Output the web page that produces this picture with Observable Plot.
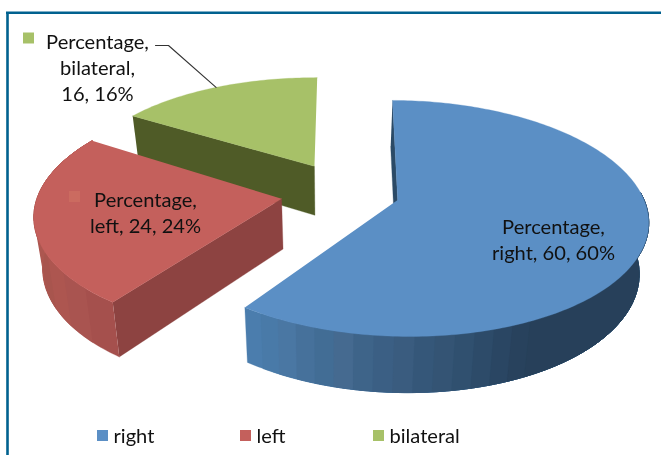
<!DOCTYPE html>
<html><head><meta charset="utf-8">
<script src="https://cdn.jsdelivr.net/npm/d3@7"></script>
<script src="https://cdn.jsdelivr.net/npm/@observablehq/plot@0.6"></script>
<style>html,body{margin:0;padding:0;background:#fff}svg{display:block;filter:blur(.5px)}</style>
</head><body><div id="chart"></div>
<script>
const categories = ["right", "left", "bilateral"];
const values = [60, 24, 16];
const topColors = ["#5b8fc5", "#c4605c", "#a7c168"];
const edgeColors = ["#2b4a66", "#8d4341", "#4f5b27"];
const keyColors = ["#5b8fc5", "#cb6b60", "#a7c168"];
// wall shading from the cut edge round the rim, one colour per band
const blueWall = ["#4b7dad","#497aa8","#4a77a3","#46719b","#426d95","#456a90","#3e6489","#3b5f84","#3a5c7f","#355779","#345474","#30506f","#2d4b69","#2a4663","#28425d","#27405a"];
const redWall = ["#a5504d","#a95450","#ad5650","#a8554e","#b0574f","#ad5750","#b65b54","#b85c56","#bc5e59","#bf5f5b"];
const labelLines = [["Percentage,","right, 60, 60%"],["Percentage,","left, 24, 24%"],["Percentage,","bilateral,","16, 16%"]];

const W = 661, H = 455;
const vx = 330, vy = 192.5, Rx = 243, Ry = 113.4, p = 0.13, expl = 0.24, X0 = 0.034, startDeg = 0.3;
const deg = Math.PI/180;
// per-slice fit of the slice's centre and radii, and how its rim wall is banded
const shapes = [
  {dX:4.5/243, apexDx:-1.5/243, sx:1, sz:1, apexDz:-0.025, rim:true, rimStop:150, rimFar:85, bands:blueWall},
  {dX:-2/243, apexDx:2.5/243, sx:0.99, sz:1, apexDz:0, rim:true, bands:redWall},
  {dX:3/243, apexDx:0, sx:0.98, sz:0.93, apexDz:0, rim:false, bands:[]}
];
const pie = d3.pie().sort(null).startAngle(startDeg*deg).endAngle((360+startDeg)*deg)(values);
function project(X, Z){const s = 1/(1-p*Z); return [vx+Rx*X*s, vy+Ry*Z*s];}
function lower([x,y]){return [vx+(x-vx)*0.97, y+49+(y-167)*0.042];}
const slices = pie.map((d,i)=>{
  const mid=(d.startAngle+d.endAngle)/2, sh=shapes[i];
  const cX=X0+expl*Math.sin(mid)+sh.dX, cZ=-expl*1.15*Math.cos(mid);
  const rim=a=>project(cX+sh.sx*Math.sin(a), cZ-sh.sz*Math.cos(a));
  return {i,a0:d.startAngle,a1:d.endAngle,apex:project(cX+sh.apexDx,cZ+sh.apexDz),rim,sh};
});
const arcPts=(s,a0,a1)=>{const lo=Math.min(a0,a1),hi=Math.max(a0,a1);const n=Math.max(2,Math.ceil((hi-lo)/deg)); return d3.range(n+1).map(k=>s.rim(lo+(hi-lo)*k/n));};
const polys=[];
let nextId=0;
const add=(pts,fill)=>{const id=nextId++; pts.forEach(q=>polys.push({id,x:q[0],y:q[1],fill}));};
function drawSlice(s){
  const c0=s.rim(s.a0), sh=s.sh;
  add([c0,s.apex,lower(s.apex),lower(c0)],edgeColors[s.i]);
  if(sh.rim){
    // each band runs under the next one so that no seams show
    const blue=s.i===0;
    const near=blue?s.a1:s.a0, stop=blue?sh.rimStop*deg:s.a1, far=blue?sh.rimFar*deg:s.a1, n=sh.bands.length;
    for(let k=0;k<n;k++){
      const b0=near+(stop-near)*k/n;
      const pts=arcPts(s,b0,far);
      add([...pts,...pts.slice().reverse().map(lower)],sh.bands[k]);
    }
  }
  add([s.apex,...arcPts(s,s.a0,s.a1)],topColors[s.i]);
}
drawSlice(slices[2]);
drawSlice(slices[1]);
drawSlice(slices[0]);

const leaderEnd=slices[2].rim((slices[2].a0+slices[2].a1)/2);
const leader=[[155,45],[168,45],leaderEnd].map(q=>({x:q[0],y:q[1]}));
const labelPos=[[553,238.5],[145,211],[97,66]];
const labelRows=labelLines.map((l,i)=>({x:labelPos[i][0],y:labelPos[i][1],text:l.join("\n")}));
const keyPos=[[0,0],[74,196],[28,37.5]];
const keyRows=[1,2].map(i=>({x:keyPos[i][0],y:keyPos[i][1],fill:keyColors[i]}));
const legendX=[102,245,378];
const legendRows=categories.map((c,i)=>({x:legendX[i],y:435,label:c,fill:topColors[i]}));
const font="Lato, 'Open Sans', sans-serif";

const chart=Plot.plot({
  width:W,height:H,margin:0,
  x:{domain:[0,W],range:[0,W],axis:null},
  y:{domain:[0,H],range:[0,H],axis:null},
  style:{background:"#fff",fontFamily:font},
  marks:[
    Plot.line(polys,{x:"x",y:"y",z:"id",fill:"fill",stroke:"fill",strokeWidth:0.3,curve:"linear"}),
    Plot.line(leader,{x:"x",y:"y",stroke:"#333",strokeWidth:1.1}),
    Plot.dot(keyRows,{x:"x",y:"y",symbol:"square",r:6.2,fill:"fill"}),
    Plot.text(labelRows,{x:"x",y:"y",text:"text",fontSize:20.1,lineHeight:1.29,fill:"#111",textAnchor:"middle",lineAnchor:"middle"}),
    Plot.dot(legendRows,{x:"x",y:"y",symbol:"square",r:6.2,fill:"fill"}),
    Plot.text(legendRows,{x:d=>d.x+11,y:d=>d.y+1,text:"label",fontSize:20.1,fill:"#111",textAnchor:"start",lineAnchor:"middle"}),
    Plot.ruleX([7],{y1:12,y2:H,stroke:"#00618f",strokeWidth:2.6}),
    Plot.ruleY([12.3],{x1:6,x2:W,stroke:"#00618f",strokeWidth:2.6})
  ]
});
document.getElementById("chart").append(chart);
</script></body></html>
